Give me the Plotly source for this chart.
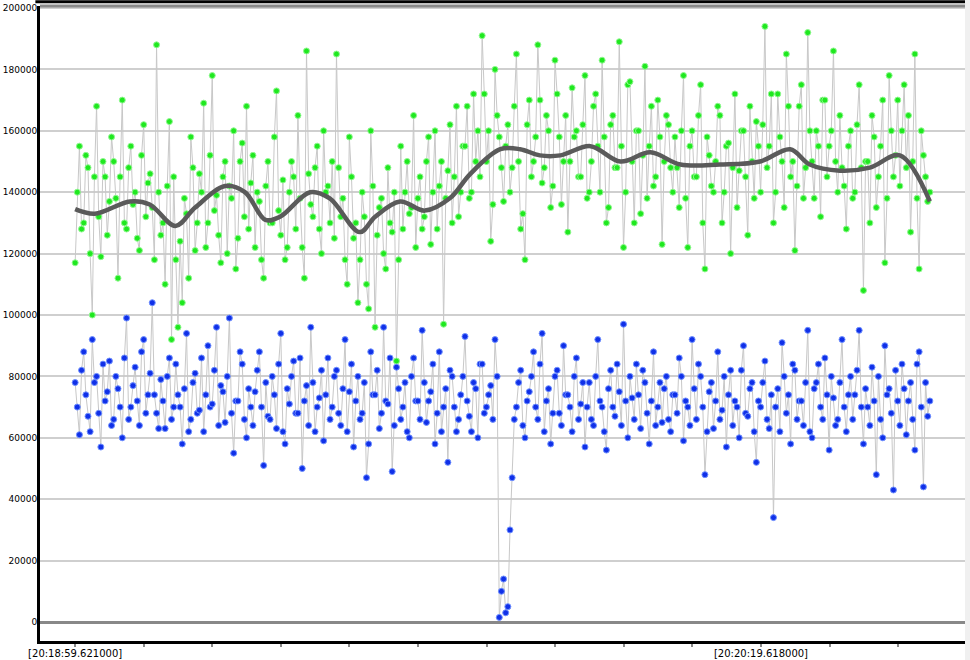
import plotly.graph_objects as go

# samples at even slots
green_a = [117,155,130,148,100,168,119,145,137,150,112,170,128,155,140,121,162,143,135,188,
126,110,163,145,96,104,133,158,121,146,169,130,178,139,117,150,142,160,125,156,
168,143,122,137,112,150,130,173,126,118,140,145,165,122,186,136,148,128,160,142,
150,185,132,118,158,125,104,140,110,160,96,135,120,148,127,85,155,140,133,165,
138,128,150,123,160,142,97,147,130,168,140,155,138,172,160,191,150,124,180,158,
137,162,148,185,128,118,170,150,188,143,165,135,183,158,150,127,174,160,145,178,
140,168,155,183,130,162,148,189,122,175,150,160,133,181,155,142,170,123,165,148,
158,135,178,122,160,145,175,115,152,140,168,130,155,120,172,147,160,126,150,163,
140,194,155,130,172,150,185,145,121,168,138,192,150,160,132,170,155,186,140,148,
128,160,140,175,108,150,165,135,155,117,178,145,170,160,148,127,185,115,152,137]
# samples at odd slots
green_b = [140,128,152,120,145,132,150,126,158,138,145,130,148,136,125,152,132,146,118,140,
130,142,92,118,124,138,112,148,130,140,122,152,134,126,145,120,138,115,150,132,
128,152,140,118,142,130,158,134,144,122,150,128,138,112,146,132,155,120,140,130,
125,148,138,110,145,130,118,132,102,142,126,138,115,130,140,118,128,150,135,122,
145,132,158,140,128,150,138,162,145,132,155,168,140,150,145,172,160,136,165,148,
155,140,168,150,133,162,145,158,170,148,160,142,172,136,165,150,158,145,162,138,
150,172,140,158,135,165,148,155,140,176,130,160,152,138,168,145,158,150,162,140,
148,160,138,155,145,165,130,158,142,150,165,140,156,148,135,160,145,168,138,155,
162,148,172,140,158,135,168,150,142,175,148,160,138,155,170,145,160,150,165,142,
155,138,162,148,150,130,158,145,170,138,160,152,142,175,165,150,138,160,145,140]

blue_a = [78,61,88,67,92,80,57,72,85,66,76,60,99,70,83,64,92,74,104,68,
79,63,86,70,74,58,94,66,81,69,62,90,71,96,77,65,99,55,72,84,
60,70,75,88,51,67,80,63,94,58,71,85,68,50,77,96,62,73,59,86,
70,82,64,92,75,57,80,68,47,88,74,63,96,71,49,83,66,78,60,86,
72,95,65,75,58,88,70,52,80,62,74,93,67,78,60,84,70,77,92,1.5,
14,5,47,70,82,60,75,88,66,94,72,58,80,68,90,74,62,86,71,57,
78,64,92,70,56,82,67,75,97,60,73,84,63,78,58,88,70,65,80,62,
74,86,59,70,92,66,80,48,75,63,88,69,57,82,72,60,90,67,78,52,
70,85,63,34,76,91,68,58,82,72,64,95,60,78,70,86,56,73,66,92,
62,80,74,95,58,70,83,48,66,90,76,43,72,84,61,78,56,88,44,67]
blue_b = [70,82,74,62,78,68,84,75,64,80,70,86,66,77,72,88,68,81,74,63,
72,80,66,84,70,76,62,78,68,86,74,70,82,64,75,80,68,72,88,66,
76,64,82,70,78,66,74,84,62,76,80,68,86,72,64,78,70,82,74,66,
80,68,76,62,84,72,66,78,58,74,82,68,72,86,64,76,70,62,80,72,
66,78,72,84,68,62,76,82,70,66,80,72,62,76,84,68,74,66,80,10,
3,30,66,78,64,72,80,70,84,62,76,68,82,64,74,70,80,66,78,70,
66,80,72,62,76,70,84,64,72,80,66,74,82,68,72,64,78,76,66,74,
68,80,72,64,76,84,70,62,78,72,66,80,74,64,70,82,68,76,62,72,
78,66,74,70,62,80,74,84,66,72,78,62,76,84,66,74,80,64,78,70,
74,66,82,70,76,64,72,80,60,74,68,82,64,76,72,66,84,70,78,72]

trend_t = [0,2.3,6.4,8.7,11.7,14,17.5,19.8,22.2,23.9,27.4,29.7,33.2,35,37.9,40.8,43.7,46.1,49.6,
           51.9,54.2,56.6,60.1,63.6,67.1,70.6,75.2,79.9,83.4,85.7,89.2,92.7,96.2,99.7]
trend_k = [134.5,133,137,136,129,135,142,140,131,132,140,138,127,132,137,134,138,146,154,
           154,152,152,155,150,153,149,149,150,154,149,147,148,152,137]

def interleave(a, b):
    out = []
    for va, vb in zip(a, b):
        out += [va, vb]
    return out

green_k = interleave(green_a, green_b)
blue_k = interleave(blue_a, blue_b)
n = len(green_k)
t_start, t_end = 0.0, 99.7
times = [t_start + (t_end - t_start) * i / (n - 1) for i in range(n)]

tick_vals = [0, 8, 16, 24, 32, 40, 48, 56, 64, 72, 80, 88, 96]
tick_text = ["[20:18:59.621000]"] + [""] * 9 + ["[20:20:19.618000]", "", ""]

fig = go.Figure()
fig.add_trace(go.Scatter(x=times, y=[v * 1000 for v in green_k], mode="lines+markers",
    line=dict(color="#c8c8c8", width=1),
    marker=dict(color="#1fe81f", size=6, line=dict(color="#90f890", width=1))))
fig.add_trace(go.Scatter(x=times, y=[v * 1000 for v in blue_k], mode="lines+markers",
    line=dict(color="#c8c8c8", width=1),
    marker=dict(color="#1030e8", size=6, line=dict(color="#7090ff", width=1))))
fig.add_trace(go.Scatter(x=trend_t, y=[v * 1000 for v in trend_k], mode="lines",
    line=dict(color="#5a5a5a", width=4.5, shape="spline", smoothing=1.0)))

fig.update_layout(
    width=970, height=660, showlegend=False,
    margin=dict(l=40, r=5, t=6, b=19),
    paper_bgcolor="white", plot_bgcolor="white",
    font=dict(family="DejaVu Sans", size=10, color="#000"),
    xaxis=dict(range=[-4.1, 103.8], tickvals=tick_vals, ticktext=tick_text,
               showgrid=False, zeroline=False, ticks="outside", ticklen=3, tickwidth=2,
               tickcolor="#888", showline=True, linecolor="#000", linewidth=3,
               tickfont=dict(size=10), automargin=False, ticklabelstandoff=-2),
    yaxis=dict(range=[-6190, 200650], tickvals=list(range(0, 200001, 20000)),
               tickformat="d", automargin=False, ticklabelstandoff=-2,
               showgrid=True, gridcolor="#cfcfcf", gridwidth=2,
               zeroline=True, zerolinecolor="#888", zerolinewidth=3,
               showline=True, linecolor="#000", linewidth=3, ticks="",
               tickfont=dict(size=9)),
    shapes=[
        dict(type="line", xref="paper", yref="paper", x0=0, x1=1, y0=1, y1=1,
             line=dict(color="#888", width=3)),
        dict(type="line", xref="paper", yref="paper", x0=-0.005, x1=1, y0=1.0065, y1=1.0065,
             line=dict(color="#000", width=3)),
        dict(type="rect", xref="paper", yref="paper", x0=1, x1=1.01, y0=-0.05, y1=1.02,
             fillcolor="#f0f0f0", line=dict(width=0)),
    ],
)
fig.write_html("out.html", config={"displayModeBar": False},
               post_script="document.body.style.margin='0';document.body.style.overflow='hidden';")
